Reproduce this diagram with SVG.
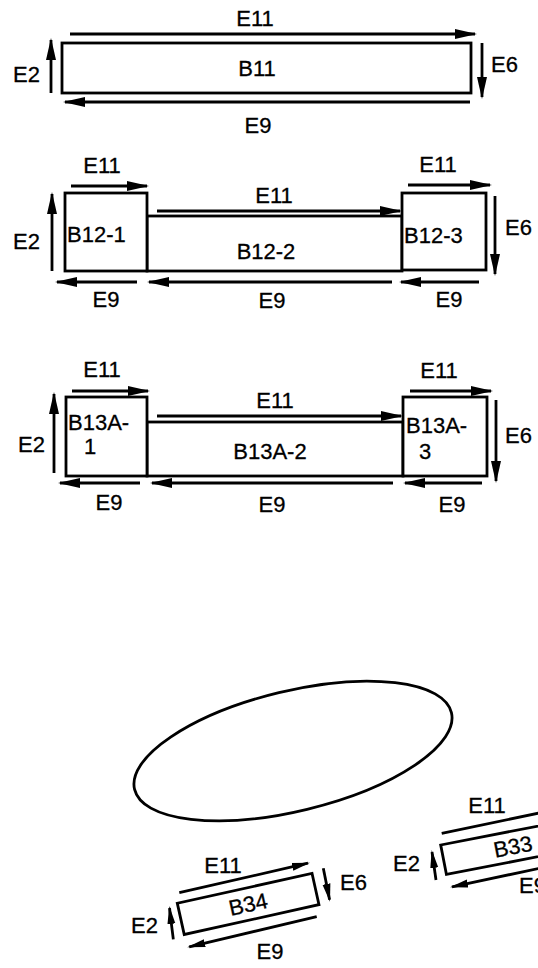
<svg xmlns="http://www.w3.org/2000/svg" width="538" height="968" viewBox="0 0 538 968">
<defs>
<style>
.b{fill:#fff;stroke:#000;stroke-width:2.8}
.c{fill:none;stroke:#000;stroke-width:2.8}
.t{font-family:"Liberation Sans",Arial,sans-serif;font-size:22px;fill:#000;stroke:#000;stroke-width:0.3}
.m{text-anchor:middle}
</style>
<marker id="ah" markerUnits="userSpaceOnUse" markerWidth="22" markerHeight="12" viewBox="0 0 22 12" refX="20" refY="6" orient="auto"><path d="M0,1 L22,6 L0,11 z" fill="#000"/></marker>
<marker id="as" markerUnits="userSpaceOnUse" markerWidth="18" markerHeight="10" viewBox="0 0 18 10" refX="16" refY="5" orient="auto"><path d="M0,1 L18,5 L0,9 z" fill="#000"/></marker>
</defs>
<rect width="538" height="968" fill="#fff"/>

<g id="B11">
<rect class="b" x="62" y="43" width="409" height="50"/>
<text class="t m" x="257" y="76">B11</text>
</g>

<g id="B12-2">
<rect class="b" x="147" y="216" width="255" height="55"/>
<text class="t m" x="266" y="259">B12-2</text>
</g>
<g id="B12-1">
<rect class="b" x="65" y="193" width="82" height="78"/>
<text class="t" x="67" y="242">B12-1</text>
</g>
<g id="B12-3">
<rect class="b" x="402" y="193" width="84" height="77"/>
<text class="t" x="404" y="243">B12-3</text>
</g>

<g id="B13A-2">
<rect class="b" x="147" y="422" width="256" height="54"/>
<text class="t m" x="270" y="459">B13A-2</text>
</g>
<g id="B13A-1">
<rect class="b" x="66" y="397" width="81" height="79"/>
<text class="t" x="68" y="430">B13A-</text>
<text class="t" x="84" y="454">1</text>
</g>
<g id="B13A-3">
<rect class="b" x="403" y="397" width="84" height="79"/>
<text class="t" x="406" y="433">B13A-</text>
<text class="t" x="419" y="459">3</text>
</g>

<g id="region">
<ellipse class="c" cx="293" cy="751" rx="163" ry="60" transform="rotate(-13.6 293 751)"/>
</g>

<g id="B34">
<g transform="translate(177.3,903.3) rotate(-12.5)">
<rect class="b" x="0" y="0" width="138" height="32"/>
<text class="t m" x="69" y="24">B34</text>
</g>
</g>

<g id="B33">
<g transform="translate(440.7,845) rotate(-11)">
<rect class="b" x="0" y="0" width="140" height="30"/>
<text class="t" x="51" y="23">B33</text>
</g>
</g>

<g id="connectors">
<path class="c" marker-end="url(#ah)" d="M70,34 H475"/>
<path class="c" marker-end="url(#ah)" d="M51,93 V40"/>
<path class="c" marker-end="url(#ah)" d="M482,43 V97"/>
<path class="c" marker-end="url(#ah)" d="M470,102 H65"/>

<path class="c" marker-end="url(#ah)" d="M71,186 H147"/>
<path class="c" marker-end="url(#ah)" d="M157,211 H400"/>
<path class="c" marker-end="url(#ah)" d="M408,185 H490"/>
<path class="c" marker-end="url(#ah)" d="M52,271 V194"/>
<path class="c" marker-end="url(#ah)" d="M495,196 V274"/>
<path class="c" marker-end="url(#ah)" d="M137,282 H57"/>
<path class="c" marker-end="url(#ah)" d="M392,282 H149"/>
<path class="c" marker-end="url(#ah)" d="M479,282 H401"/>

<path class="c" marker-end="url(#ah)" d="M72,391 H148"/>
<path class="c" marker-end="url(#ah)" d="M157,416 H401"/>
<path class="c" marker-end="url(#ah)" d="M410,391 H491"/>
<path class="c" marker-end="url(#ah)" d="M54,473 V394"/>
<path class="c" marker-end="url(#ah)" d="M496,400 V481"/>
<path class="c" marker-end="url(#ah)" d="M140,483 H60"/>
<path class="c" marker-end="url(#ah)" d="M393,483 H152"/>
<path class="c" marker-end="url(#ah)" d="M482,483 H405"/>

<path class="c" marker-end="url(#as)" d="M179.3,892.7 L308,863.2"/>
<path class="c" marker-end="url(#as)" d="M323.3,868.3 L329.6,899.7"/>
<path class="c" marker-end="url(#as)" d="M316.7,916.7 L189.2,946.8"/>
<path class="c" marker-end="url(#as)" d="M173.3,939.3 L169.5,908"/>

<path class="c" d="M441.7,833.3 L560,808.7"/>
<path class="c" marker-end="url(#as)" d="M436,880 L432,852"/>
<path class="c" marker-end="url(#as)" d="M560,864 L452,886.8"/>

<text class="t m" x="255" y="26">E11</text>
<text class="t" x="13" y="82">E2</text>
<text class="t" x="491" y="72">E6</text>
<text class="t m" x="258" y="133">E9</text>

<text class="t m" x="102" y="173">E11</text>
<text class="t m" x="274" y="203">E11</text>
<text class="t m" x="438" y="172">E11</text>
<text class="t" x="13" y="249">E2</text>
<text class="t" x="505" y="235">E6</text>
<text class="t m" x="106" y="307">E9</text>
<text class="t m" x="272" y="308">E9</text>
<text class="t m" x="449" y="307">E9</text>

<text class="t m" x="102" y="377">E11</text>
<text class="t m" x="275" y="408">E11</text>
<text class="t m" x="439" y="378">E11</text>
<text class="t" x="18" y="452">E2</text>
<text class="t" x="505" y="443">E6</text>
<text class="t m" x="109" y="510">E9</text>
<text class="t m" x="272" y="512">E9</text>
<text class="t m" x="452" y="512">E9</text>

<text class="t m" x="223" y="873">E11</text>
<text class="t" x="340" y="890">E6</text>
<text class="t m" x="270" y="959">E9</text>
<text class="t" x="131" y="933">E2</text>

<text class="t m" x="487" y="813">E11</text>
<text class="t" x="393" y="871">E2</text>
<text class="t" x="519" y="893">E9</text>
</g>
</svg>
